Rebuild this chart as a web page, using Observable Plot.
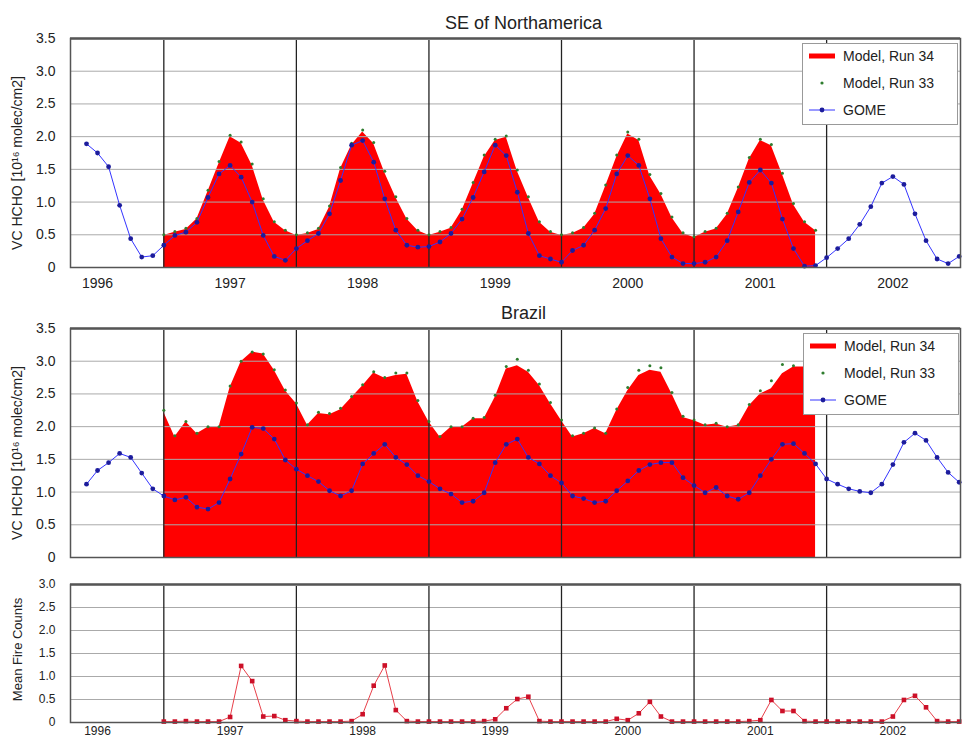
<!DOCTYPE html>
<html><head><meta charset="utf-8">
<script src="https://cdn.jsdelivr.net/npm/d3@7"></script>
<script src="https://cdn.jsdelivr.net/npm/@observablehq/plot@0.6"></script>
<style>
body{margin:0;background:#fff;font-family:"Liberation Sans",Arial,sans-serif;}
#wrap{position:relative;width:969px;height:740px;overflow:hidden;background:#fff}
#wrap svg{display:block}
.legend{position:absolute;background:#fff;border:1px solid #999;width:156px;height:82px;box-sizing:border-box;font-size:14px;color:#222}
.legend .row{position:absolute;left:0;height:20px;width:100%}
.legend .row svg{position:absolute;left:4px;top:0}
.legend .row span{position:absolute;left:40px;top:2px;white-space:nowrap}
</style></head><body><div id="wrap"></div>
<script>
// ---------- data ----------
const gomeStart = 1996 + 5/12;   // June 1996
const modelStart = 1997;         // Jan 1997
const fireStart = 1997;          // Jan 1997

const panelTitles = ["SE of Northamerica", "Brazil"];
const yLabelHCHO = "VC HCHO [10¹⁶ molec/cm2]";
const yLabelFire = "Mean Fire Counts";
const seriesNames = ["Model, Run 34", "Model, Run 33", "GOME"];

const xDomain = [1996.296, 2003.01];
const yearLines = [1997, 1998, 1999, 2000, 2001, 2002];
const yearLabelPos = [1996.5, 1997.5, 1998.5, 1999.5, 2000.5, 2001.5, 2002.5];
const yTicksHCHO = [0, 0.5, 1, 1.5, 2, 2.5, 3, 3.5];
const yTicksFire = [0, 0.5, 1, 1.5, 2, 2.5, 3];

// SE of Northamerica
const gomeNA = [
  1.89, 1.75, 1.54, 0.95, 0.44, 0.16, 0.18,
  0.34, 0.49, 0.54, 0.69, 1.07, 1.43, 1.56, 1.38, 1.00, 0.49, 0.17, 0.11,
  0.29, 0.41, 0.52, 0.82, 1.33, 1.87, 1.94, 1.61, 1.05, 0.57, 0.34, 0.31,
  0.32, 0.39, 0.52, 0.74, 1.07, 1.46, 1.87, 1.71, 1.15, 0.52, 0.18, 0.13,
  0.08, 0.26, 0.34, 0.57, 0.90, 1.43, 1.71, 1.56, 1.05, 0.44, 0.16, 0.06,
  0.06, 0.08, 0.16, 0.41, 0.85, 1.30, 1.49, 1.29, 0.74, 0.29, 0.02, 0.03,
  0.15, 0.29, 0.44, 0.66, 0.93, 1.29, 1.39, 1.27, 0.82, 0.41, 0.13, 0.06,
  0.17
];
const run34NA = [
  0.49, 0.54, 0.58, 0.74, 1.16, 1.59, 2.00, 1.90, 1.56, 1.03, 0.69, 0.56,
  0.49, 0.52, 0.58, 0.92, 1.51, 1.87, 2.07, 1.89, 1.45, 1.07, 0.74, 0.56,
  0.49, 0.54, 0.60, 0.87, 1.28, 1.69, 1.94, 1.99, 1.47, 1.07, 0.69, 0.54,
  0.49, 0.52, 0.60, 0.81, 1.24, 1.69, 2.04, 1.94, 1.40, 1.12, 0.76, 0.52,
  0.46, 0.54, 0.59, 0.81, 1.21, 1.66, 1.94, 1.86, 1.42, 0.96, 0.69, 0.56
];
const run33NA = [
  0.50, 0.55, 0.60, 0.75, 1.18, 1.62, 2.02, 1.92, 1.58, 1.05, 0.70, 0.57,
  0.50, 0.53, 0.60, 0.94, 1.53, 1.90, 2.10, 1.91, 1.47, 1.08, 0.75, 0.57,
  0.50, 0.55, 0.61, 0.89, 1.30, 1.72, 1.96, 2.01, 1.49, 1.08, 0.70, 0.55,
  0.50, 0.53, 0.61, 0.83, 1.26, 1.72, 2.07, 1.96, 1.42, 1.13, 0.77, 0.53,
  0.47, 0.55, 0.60, 0.83, 1.23, 1.68, 1.96, 1.88, 1.44, 0.98, 0.70, 0.57
];

// Brazil
const gomeBR = [
  1.12, 1.33, 1.45, 1.59, 1.53, 1.29, 1.05,
  0.94, 0.88, 0.92, 0.77, 0.74, 0.84, 1.20, 1.58, 1.99, 1.97, 1.81, 1.49,
  1.35, 1.25, 1.16, 1.02, 0.94, 1.02, 1.43, 1.59, 1.73, 1.53, 1.42, 1.25,
  1.16, 1.05, 0.97, 0.84, 0.86, 0.99, 1.45, 1.73, 1.81, 1.53, 1.43, 1.25,
  1.14, 0.94, 0.90, 0.84, 0.86, 1.02, 1.17, 1.33, 1.42, 1.45, 1.45, 1.22,
  1.10, 0.99, 1.07, 0.94, 0.89, 0.99, 1.25, 1.50, 1.73, 1.74, 1.59, 1.43,
  1.20, 1.12, 1.05, 1.01, 0.99, 1.12, 1.42, 1.76, 1.90, 1.79, 1.53, 1.30,
  1.15
];
const run34BR = [
  2.22, 1.84, 2.07, 1.89, 1.99, 1.99, 2.60, 2.99, 3.14, 3.11, 2.86, 2.55,
  2.35, 2.02, 2.20, 2.18, 2.26, 2.44, 2.62, 2.82, 2.74, 2.78, 2.80, 2.38,
  2.07, 1.84, 1.99, 1.99, 2.12, 2.12, 2.45, 2.88, 2.93, 2.83, 2.63, 2.35,
  2.09, 1.84, 1.89, 1.97, 1.89, 2.25, 2.55, 2.78, 2.86, 2.83, 2.50, 2.14,
  2.09, 2.02, 2.04, 1.99, 2.02, 2.32, 2.50, 2.58, 2.81, 2.91, 2.91, 2.88
];
const run33BR = [
  2.25, 1.86, 2.08, 1.90, 2.00, 2.00, 2.62, 3.00, 3.14, 3.11, 2.87, 2.56,
  2.36, 2.03, 2.22, 2.20, 2.28, 2.46, 2.64, 2.84, 2.75, 2.82, 2.82, 2.40,
  2.08, 1.85, 2.00, 2.00, 2.13, 2.14, 2.48, 2.92, 3.03, 2.86, 2.65, 2.37,
  2.10, 1.86, 1.90, 1.98, 1.90, 2.27, 2.60, 2.86, 2.93, 2.90, 2.52, 2.16,
  2.10, 2.03, 2.05, 2.00, 2.03, 2.34, 2.55, 2.70, 2.95, 2.93, 2.93, 2.90
];

// Fire counts
const fire = [
  0.02, 0.02, 0.03, 0.02, 0.02, 0.02, 0.12, 1.23, 0.90, 0.13, 0.14, 0.05,
  0.03, 0.02, 0.02, 0.02, 0.02, 0.03, 0.18, 0.80, 1.24, 0.27, 0.03, 0.02,
  0.02, 0.02, 0.02, 0.02, 0.02, 0.03, 0.07, 0.31, 0.51, 0.56, 0.03, 0.02,
  0.02, 0.02, 0.02, 0.02, 0.02, 0.08, 0.05, 0.20, 0.45, 0.13, 0.02, 0.02,
  0.02, 0.02, 0.02, 0.02, 0.02, 0.03, 0.05, 0.49, 0.25, 0.25, 0.03, 0.02,
  0.02, 0.02, 0.02, 0.02, 0.02, 0.02, 0.13, 0.49, 0.58, 0.33, 0.03, 0.02,
  0.02
];

// ---------- helpers ----------
const rows = (vals, start) => vals.map((v, i) => ({t: start + i / 12, v}));
const fmt = d => d === 0 ? "0" : d.toFixed(1);
const FONT = '"Liberation Sans", Arial, sans-serif';
const RED = "#ff0000", GREEN = "#2f7d2f", BLUE = "#3434ff", NAVY = "#1c1c9c";

function hchoPanel({title, gome, m34, m33, height, marginBottom, showX}) {
  const G = rows(gome, gomeStart), A = rows(m34, modelStart), B = rows(m33, modelStart);
  return Plot.plot({
    width: 969, height,
    marginLeft: 70, marginRight: 9, marginTop: 38, marginBottom,
    style: {fontFamily: FONT, fontSize: "14px", color: "#222", background: "transparent", overflow: "visible"},
    x: {domain: xDomain, ticks: yearLabelPos, tickFormat: d => String(Math.floor(d)), tickSize: 0, tickPadding: 11, label: null, axis: showX ? "bottom" : null},
    y: {domain: [0, 3.5], ticks: yTicksHCHO, tickFormat: fmt, tickSize: 0, tickPadding: 15, label: null},
    marks: [
      Plot.areaY(A, {x: "t", y: "v", fill: RED}),
      Plot.ruleY(yTicksHCHO.filter(d => d > 0 && d < 3.5), {stroke: "#aaa", strokeWidth: 1}),
      Plot.ruleX(yearLines, {stroke: "#222", strokeWidth: 1.3}),
      Plot.dot(B, {x: "t", y: "v", r: 1.5, fill: GREEN}),
      Plot.line(G, {x: "t", y: "v", stroke: BLUE, strokeWidth: 1}),
      Plot.dot(G, {x: "t", y: "v", r: 2.4, fill: NAVY}),
      Plot.ruleY([3.5], {stroke: "#888", strokeWidth: 3}),
      Plot.frame({stroke: "#555", strokeWidth: 1.5}),
      Plot.text([title], {frameAnchor: "top", textAnchor: "middle", lineAnchor: "middle", dy: -15, dx: 8, fontSize: 18, fill: "#222", text: d => d}),
      Plot.text([yLabelHCHO], {frameAnchor: "left", textAnchor: "middle", lineAnchor: "middle", rotate: -90, dx: -53, dy: 10, fontSize: 14, fill: "#222", text: d => d})
    ]
  });
}

function firePanel() {
  const F = rows(fire, fireStart);
  return Plot.plot({
    width: 969, height: 170,
    marginLeft: 70, marginRight: 9, marginTop: 14, marginBottom: 18,
    style: {fontFamily: FONT, fontSize: "12px", color: "#222", background: "transparent", overflow: "visible"},
    x: {domain: xDomain, ticks: yearLabelPos, tickFormat: d => String(Math.floor(d)), tickSize: 0, tickPadding: 4, label: null},
    y: {domain: [0, 3], ticks: yTicksFire, tickFormat: fmt, tickSize: 0, tickPadding: 15, label: null},
    marks: [
      Plot.ruleY(yTicksFire.filter(d => d > 0 && d < 3), {stroke: "#aaa", strokeWidth: 1}),
      Plot.ruleX(yearLines, {stroke: "#222", strokeWidth: 1.3}),
      Plot.line(F, {x: "t", y: "v", stroke: "#e8404a", strokeWidth: 1}),
      Plot.dot(F, {x: "t", y: "v", r: 2.6, symbol: "square", fill: "#cc1028"}),
      Plot.ruleY([3], {stroke: "#888", strokeWidth: 3}),
      Plot.frame({stroke: "#555", strokeWidth: 1.5}),
      Plot.text([yLabelFire], {frameAnchor: "left", textAnchor: "middle", lineAnchor: "middle", rotate: -90, dx: -53, dy: -4, fontSize: 13, fill: "#222", text: d => d})
    ]
  });
}

const wrap = document.getElementById("wrap");
wrap.append(
  hchoPanel({title: panelTitles[0], gome: gomeNA, m34: run34NA, m33: run33NA, height: 290, marginBottom: 23, showX: true}),
  hchoPanel({title: panelTitles[1], gome: gomeBR, m34: run34BR, m33: run33BR, height: 280, marginBottom: 13, showX: false}),
  firePanel()
);

// ---------- legends ----------
function legend(left, top) {
  const div = document.createElement("div");
  div.className = "legend";
  div.style.left = left + "px";
  div.style.top = top + "px";
  const swatches = [
    `<svg width="30" height="20"><line x1="2" y1="10" x2="28" y2="10" stroke="${RED}" stroke-width="5"/></svg>`,
    `<svg width="30" height="20"><circle cx="15" cy="10" r="1.6" fill="${GREEN}"/></svg>`,
    `<svg width="30" height="20"><line x1="2" y1="10" x2="28" y2="10" stroke="${BLUE}" stroke-width="1"/><circle cx="15" cy="10" r="2.4" fill="${NAVY}"/></svg>`
  ];
  seriesNames.forEach((name, i) => {
    const r = document.createElement("div");
    r.className = "row";
    r.style.top = (2 + i * 27) + "px";
    r.innerHTML = swatches[i] + `<span>${name}</span>`;
    div.appendChild(r);
  });
  wrap.appendChild(div);
}
legend(802, 43);
legend(803, 333);
</script></body></html>
